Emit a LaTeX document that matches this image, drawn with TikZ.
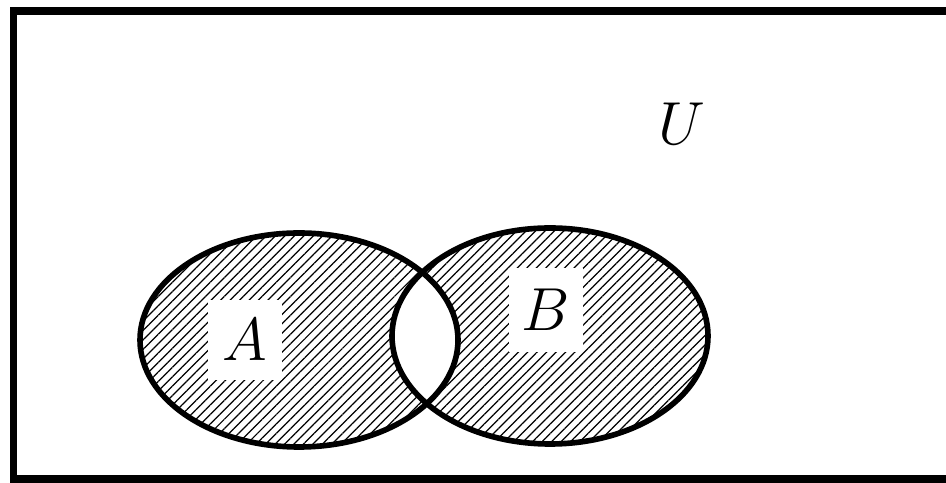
\documentclass[tikz,border=0pt]{standalone}
\usetikzlibrary{patterns.meta}
\begin{document}
\begin{tikzpicture}[x=0.01cm, y=-0.01cm,
    frame/.style={draw, line width=2.1pt},
    setline/.style={draw, line width=1.6pt},
    hatch/.style={pattern={Lines[angle=45, distance=1.9pt, line width=0.35pt]}},
    setname/.style={fill=white, inner sep=0pt, font=\fontsize{18}{20}\selectfont},
    plain/.style={inner sep=0pt, font=\fontsize{18}{20}\selectfont}]

    \useasboundingbox (0,0) rectangle (946,483);

    % === 集合 A, B 的阴影 ===
    \fill[hatch] (299,340) ellipse [x radius=159, y radius=107];
    \fill[hatch] (550,336) ellipse [x radius=158, y radius=108];

    % === 交集 (不涂) ===
    \begin{scope}
        \clip (299,340) ellipse [x radius=159, y radius=107];
        \fill[white] (550,336) ellipse [x radius=158, y radius=108];
    \end{scope}

    % === 边界 ===
    \path[setline] (299,340) ellipse [x radius=159, y radius=107];
    \path[setline] (550,336) ellipse [x radius=158, y radius=108];

    % === 标签 ===
    \node[setname, minimum width=0.73cm, minimum height=0.8cm] (A) at (245,340) {$A$};
    \node[setname, minimum width=0.73cm, minimum height=0.84cm] (B) at (546,310) {$B$};
    \node[plain] (U) at (682,124) {$U$};

    % === 全集 U ===
    \path[frame] (13.5,11) rectangle (980,479);

\end{tikzpicture}
\end{document}
